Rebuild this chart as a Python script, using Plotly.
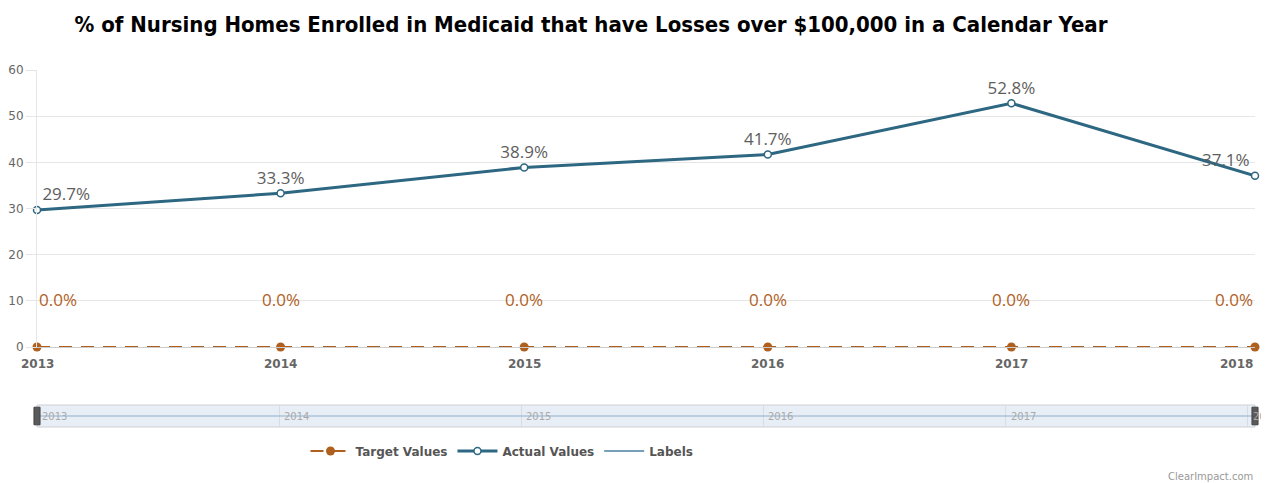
import plotly.graph_objects as go

years = [2013, 2014, 2015, 2016, 2017, 2018]
actual_values = [29.7, 33.3, 38.9, 41.7, 52.8, 37.1]
target_values = [0.0, 0.0, 0.0, 0.0, 0.0, 0.0]
y_ticks = [0, 10, 20, 30, 40, 50, 60]

ORANGE = "#b0601e"
TEAL = "#2d6782"
GREY = "#666666"

# page geometry (px); the html body adds an 8px offset
OFF = 8
W, H = 1269 - OFF, 483 - OFF
top, bottom = 70, 428          # page px of the plotting area
left, right = 37, 1255
plot_h = bottom - top
main_bottom = 347
nav_top, nav_bottom = 405, 427


def py(pix):
    return (bottom - pix) / plot_h


fig = go.Figure()

actual_pos = ["top right"] + ["top center"] * 4 + ["top left"]
fig.add_trace(go.Scatter(
    x=years, y=target_values, name="Target Values",
    mode="lines+markers",
    line=dict(color=ORANGE, width=2, dash="13px,9px"),
    marker=dict(color=ORANGE, size=9),
    cliponaxis=False,
))
fig.add_trace(go.Scatter(
    x=years, y=actual_values, name="Actual Values",
    mode="lines+markers+text",
    text=[f"{v:.1f}%" for v in actual_values],
    textposition=actual_pos,
    textfont=dict(family="Open Sans", size=17, color="#5e5e5e"),
    line=dict(color=TEAL, width=3),
    marker=dict(color="white", size=7, line=dict(color=TEAL, width=1.5)),
    cliponaxis=False,
))
fig.add_trace(go.Scatter(
    x=[None], y=[None], name="Labels", mode="lines",
    line=dict(color="#4a7fa0", width=1.5),
))

# target labels sit above the target line
for i, (x, v) in enumerate(zip(years, target_values)):
    anchor = "left" if i == 0 else ("right" if i == len(years) - 1 else "center")
    fig.add_annotation(
        x=x, y=v, xref="x", yref="y", text=f"{v:.1f}%", showarrow=False,
        xanchor=anchor, yshift=48,
        font=dict(family="Open Sans", size=17, color=ORANGE),
    )

# x tick labels (edge label pulled inside like the original)
for i, x in enumerate(years):
    anchor = "right" if i == len(years) - 1 else "center"
    fig.add_annotation(
        x=x, y=py(364), xref="x", yref="paper", text=str(x), showarrow=False,
        xanchor=anchor, yanchor="middle",
        font=dict(family="DejaVu Sans", size=12, color=GREY, weight="bold"),
    )

# navigator strip
fig.add_trace(go.Scatter(
    x=[years[0], years[-1] + 0.03], y=[0.5, 0.5], xaxis="x2", yaxis="y2",
    mode="lines", line=dict(color="#8fb0cc", width=1), showlegend=False,
    hoverinfo="skip",
))
fig.add_shape(type="rect", xref="x2 domain", yref="y2 domain",
              x0=0, x1=1, y0=0, y1=1, fillcolor="#e8eef6",
              line=dict(color="#cfcfd6", width=1), layer="below")
for xe in [0, 1]:
    fig.add_shape(type="rect", xref="x2 domain", yref="y2 domain",
                  x0=xe - 0.0025, x1=xe + 0.0025, y0=0.1, y1=0.9,
                  fillcolor="#5a5a5a", line=dict(color="#444444", width=1))
for x in years:
    fig.add_annotation(
        x=x, y=0.5, xref="x2", yref="y2", text=str(x), showarrow=False,
        xanchor="left", yanchor="middle", xshift=3,
        font=dict(family="DejaVu Sans", size=10, color="#aaaaaa"),
    )

fig.add_annotation(
    x=1, y=py(476), xref="paper", yref="paper", text="ClearImpact.com",
    showarrow=False, xanchor="right", yanchor="middle",
    font=dict(family="DejaVu Sans", size=10, color="#999999"),
)

fig.update_layout(
    width=W, height=H,
    margin=dict(l=left - OFF, r=W - (right - OFF), t=top - OFF, b=H - (bottom - OFF)),
    paper_bgcolor="white", plot_bgcolor="white",
    title=dict(
        text="<b>% of Nursing Homes Enrolled in Medicaid that have Losses over $100,000 in a Calendar Year</b>",
        x=(591 - OFF) / W, xanchor="center", y=1 - (24 - OFF) / H, yanchor="middle",
        font=dict(family="DejaVu Sans Condensed", size=22, color="black"),
    ),
    showlegend=True,
    legend=dict(
        orientation="h", x=(502 - left) / (right - left), xanchor="center",
        y=py(451), yanchor="middle",
        font=dict(family="DejaVu Sans", size=12, color="#555555", weight="bold"),
        itemwidth=40,
    ),
    xaxis=dict(
        range=[years[0], years[-1]], tickvals=years, showticklabels=False,
        showgrid=False, showline=True, linecolor="#cccccc", ticks="",
        zeroline=False, anchor="y", automargin=False,
    ),
    yaxis=dict(
        domain=[py(main_bottom), 1], range=[0, 60], tickvals=y_ticks,
        gridcolor="#e6e6e6", showline=True, linecolor="#e6e6e6",
        ticks="outside", ticklen=10, tickcolor="#e6e6e6",
        tickfont=dict(family="DejaVu Sans", size=12, color=GREY),
        zeroline=False, automargin=False,
    ),
    xaxis2=dict(
        range=[years[0], years[-1] + 0.03], tickvals=years, anchor="y2",
        showgrid=True, gridcolor="#d8dbe2", ticks="", showticklabels=False,
        showline=False, zeroline=False, automargin=False,
    ),
    yaxis2=dict(
        domain=[py(nav_bottom), py(nav_top)], range=[0, 1], anchor="x2",
        showticklabels=False, showgrid=False, zeroline=False, automargin=False,
    ),
)

fig.write_html("out.html")
